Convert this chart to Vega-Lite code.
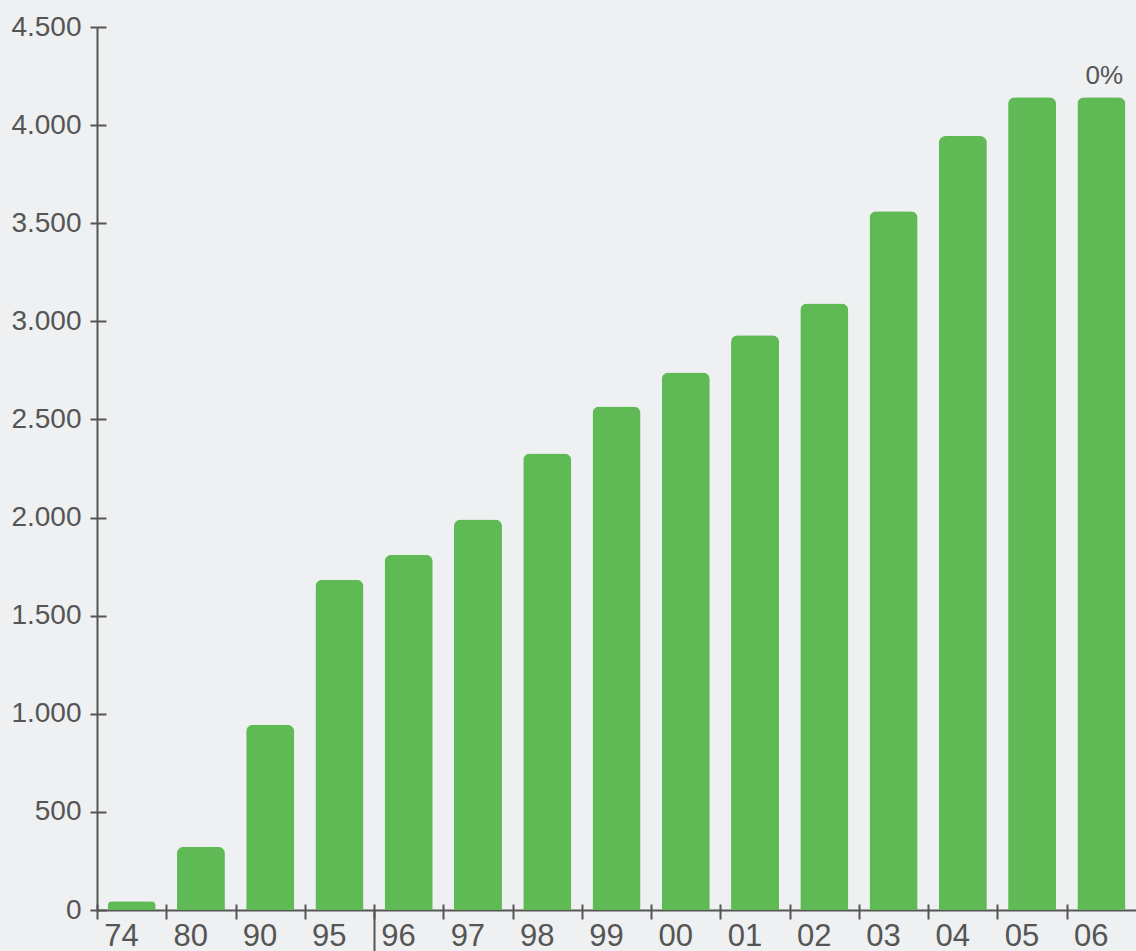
{
  "$schema": "https://vega.github.io/schema/vega-lite/v6.json",
  "width": 1039,
  "height": 883,
  "autosize": {"type": "none"},
  "padding": {"left": 97, "top": 27, "right": 0, "bottom": 41},
  "background": "#eef0f1",
  "config": {"view": {"stroke": null}, "font": "Liberation Sans"},
  "data": {
    "values": [
      {"year": "74", "value": 45},
      {"year": "80", "value": 322},
      {"year": "90", "value": 944},
      {"year": "95", "value": 1683},
      {"year": "96", "value": 1810},
      {"year": "97", "value": 1990},
      {"year": "98", "value": 2327},
      {"year": "99", "value": 2566},
      {"year": "00", "value": 2739},
      {"year": "01", "value": 2929},
      {"year": "02", "value": 3091},
      {"year": "03", "value": 3561},
      {"year": "04", "value": 3944},
      {"year": "05", "value": 4142},
      {"year": "06", "value": 4142, "note": "0%"}
    ]
  },
  "layer": [
    {
      "mark": {"type": "bar", "color": "#5fba55", "cornerRadiusTopLeft": 7, "cornerRadiusTopRight": 7},
      "encoding": {
        "x": {
          "field": "year", "type": "ordinal", "sort": null,
          "scale": {"paddingInner": 0.307, "paddingOuter": 0.1535},
          "axis": {
            "title": null, "orient": "bottom",
            "domainColor": "#555555", "domainWidth": 2,
            "tickColor": "#555555", "tickWidth": 2, "tickSize": 9,
            "bandPosition": 0, "tickOffset": -10.6,
            "labelFontSize": 31, "labelColor": "#555555", "labelPadding": 2, "labelAngle": 0
          }
        },
        "y": {
          "field": "value", "type": "quantitative",
          "scale": {"domain": [0, 4500], "nice": false},
          "axis": {
            "title": null, "orient": "left", "grid": false,
            "values": [0, 500, 1000, 1500, 2000, 2500, 3000, 3500, 4000, 4500],
            "labelExpr": "replace(format(datum.value, ','), ',', '.')",
            "domainColor": "#555555", "domainWidth": 2,
            "tickColor": "#555555", "tickWidth": 2, "tickSize": 7,
            "labelFontSize": 28, "labelColor": "#555555", "labelPadding": 9
          }
        }
      }
    },
    {
      "mark": {"type": "bar", "opacity": 0},
      "encoding": {
        "x": {
          "field": "year", "type": "ordinal", "sort": null,
          "axis": {
            "title": null, "orient": "bottom", "domain": false, "labels": false,
            "tickColor": "#555555", "tickWidth": 2, "tickSize": -6,
            "bandPosition": 0, "tickOffset": -10.6
          }
        },
        "y": {
          "field": "value", "type": "quantitative",
          "axis": {
            "title": null, "orient": "left", "grid": false, "domain": false, "labels": false,
            "values": [0, 500, 1000, 1500, 2000, 2500, 3000, 3500, 4000, 4500],
            "tickColor": "#555555", "tickWidth": 2, "tickSize": -9
          }
        }
      }
    },
    {
      "mark": {"type": "bar", "opacity": 0},
      "encoding": {
        "x": {
          "field": "year", "type": "ordinal", "sort": null,
          "axis": {
            "title": null, "orient": "bottom", "domain": false, "labels": false,
            "values": ["96"],
            "tickColor": "#555555", "tickWidth": 2, "tickSize": 45,
            "bandPosition": 0, "tickOffset": -10.6
          }
        },
        "y": {"field": "value", "type": "quantitative", "axis": null}
      }
    },
    {
      "transform": [{"filter": "datum.note"}],
      "mark": {"type": "text", "baseline": "bottom", "dy": -8, "dx": 3, "fontSize": 26, "color": "#555555"},
      "encoding": {
        "x": {"field": "year", "type": "ordinal", "sort": null, "axis": null},
        "y": {"field": "value", "type": "quantitative", "axis": null},
        "text": {"field": "note"}
      }
    }
  ],
  "resolve": {"axis": {"x": "independent", "y": "independent"}}
}
